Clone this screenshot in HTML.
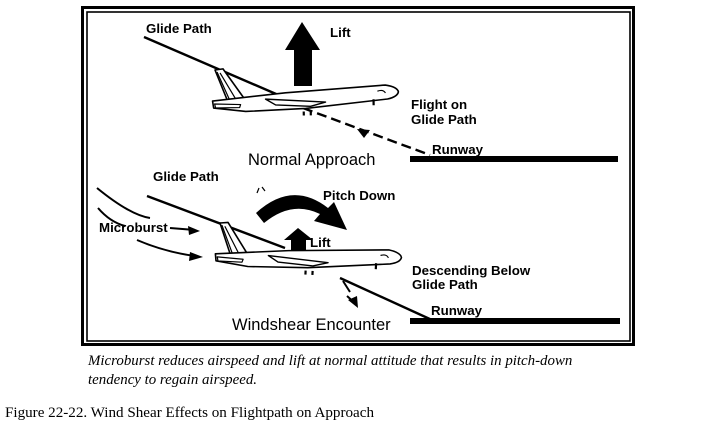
<!DOCTYPE html>
<html><head><meta charset="utf-8"><style>
html,body{margin:0;padding:0;background:#fff;width:713px;height:429px;overflow:hidden}
svg{display:block}
.b{font-family:"Liberation Sans",sans-serif;font-weight:bold;font-size:13.3px;fill:#000}
.n{font-family:"Liberation Sans",sans-serif;font-size:16.5px;fill:#000}
.i{font-family:"Liberation Serif",serif;font-style:italic;font-size:14.9px;fill:#000}
.r{font-family:"Liberation Serif",serif;font-size:15.1px;fill:#000}
</style></head><body>
<svg width="713" height="429" viewBox="0 0 713 429" xmlns="http://www.w3.org/2000/svg">
<defs>
<g id="plane" fill="#fff" stroke="#000" stroke-width="1.6" stroke-linejoin="round">
<path d="M0,0 L8,-1 L28,28 L12,31 Z"/>
<path d="M5,3 L20,29 M2,2 L14,30" fill="none" stroke-width="1.2"/>
<path d="M-3,31 L70,24 L170,18 Q182,20 183,25 Q182,30 172,32 L90,40 L30,42 L-2,38 Z"/>
<path d="M-1,34 L25,35 L24,38 L0,38 Z" stroke-width="1.2"/>
<path d="M50,30 L110,34 L95,38 L60,36 Z" stroke-width="1.4"/>
<path d="M162,24 Q168,22 170,26" fill="none" stroke-width="1.2"/>
<path d="M88,43 v4 M95,43 v4 M158,32 v6" stroke-width="2.2"/>
</g>
</defs>
<rect x="82.5" y="7.5" width="551" height="337" fill="none" stroke="#000" stroke-width="3"/>
<rect x="87" y="12" width="543" height="329" fill="none" stroke="#000" stroke-width="1.6"/>

<!-- top -->
<text class="b" x="146" y="33">Glide Path</text>
<line x1="144" y1="37" x2="290" y2="100" stroke="#000" stroke-width="2.4"/>
<line x1="303" y1="108" x2="430" y2="155" stroke="#000" stroke-width="2.4" stroke-dasharray="10,5"/>
<path d="M357,129 L370,130 L364,138 Z" fill="#000"/>
<path d="M294,86 V50 H285 L302,22 L320,50 H312 V86 Z" fill="#000"/>
<text class="b" x="330" y="37">Lift</text>
<use href="#plane" transform="translate(215,70) rotate(-1)"/>
<text class="b" x="411" y="109">Flight on</text>
<text class="b" x="411" y="124">Glide Path</text>
<text class="b" x="432" y="154">Runway</text>
<rect x="410" y="156" width="208" height="6" fill="#000"/>
<text class="n" x="248" y="165">Normal Approach</text>

<!-- bottom -->
<text class="b" x="153" y="181">Glide Path</text>
<path d="M257,193 l2,-5 M262,187 l3,4" stroke="#000" stroke-width="1.2"/>
<line x1="147" y1="196" x2="285" y2="248" stroke="#000" stroke-width="2.4"/>
<line x1="340" y1="278" x2="432" y2="320" stroke="#000" stroke-width="2.4"/>
<path d="M343,281 L350,292 M347,296 L356,304" stroke="#000" stroke-width="2"/>
<path d="M348,300 L357,296 L358,308 Z" fill="#000"/>
<path d="M97,188 Q130,215 150,218 M98,208 Q110,222 125,226" fill="none" stroke="#000" stroke-width="2"/>
<text class="b" x="99" y="232">Microburst</text>
<line x1="170" y1="228" x2="195" y2="230" stroke="#000" stroke-width="2"/>
<path d="M200,231 L188,226 L189,235 Z" fill="#000"/>
<path d="M137,240 Q165,252 195,256" fill="none" stroke="#000" stroke-width="2"/>
<path d="M203,257 L190,252 L189,261 Z" fill="#000"/>
<text class="b" x="323" y="200">Pitch Down</text>
<path d="M264,223 Q292,200 320,214 L314,221 L347,230 L334,202 L328,208 Q292,180 256,213 Z" fill="#000"/>
<path d="M291,253 V240 H284 L298,228 L313,240 H306 V253 Z" fill="#000"/>
<text class="b" x="310" y="247">Lift</text>
<use href="#plane" transform="translate(220,223) rotate(3)"/>
<text class="b" x="412" y="275">Descending Below</text>
<text class="b" x="412" y="289">Glide Path</text>
<text class="b" x="431" y="315">Runway</text>
<rect x="410" y="318" width="210" height="6" fill="#000"/>
<text class="n" x="232" y="330">Windshear Encounter</text>

<text class="i" x="88" y="365">Microburst reduces airspeed and lift at normal attitude that results in pitch-down</text>
<text class="i" x="88" y="384">tendency to regain airspeed.</text>
<text class="r" x="5" y="417">Figure 22-22. Wind Shear Effects on Flightpath on Approach</text>
</svg>
</body></html>
